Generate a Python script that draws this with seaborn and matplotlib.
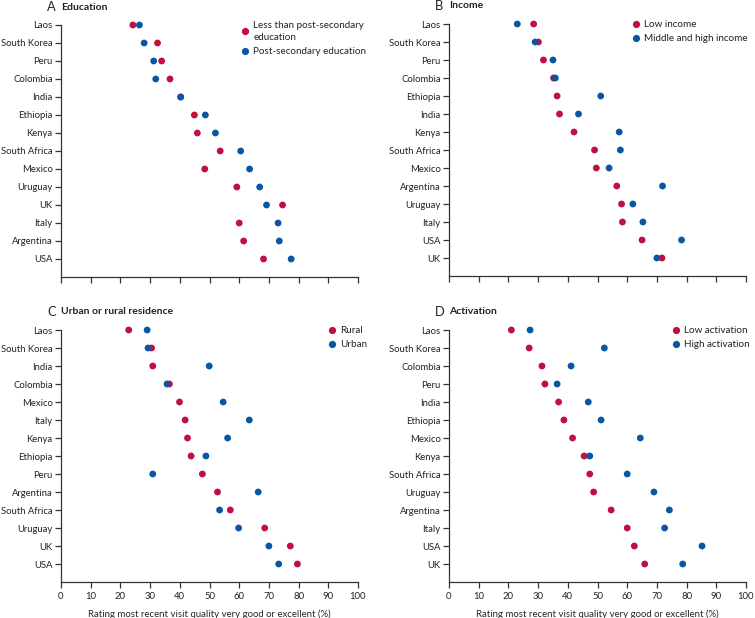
import pandas as pd
import matplotlib
matplotlib.use("Agg")
import matplotlib.pyplot as plt
from matplotlib import font_manager
from matplotlib.lines import Line2D
import seaborn as sns

# Datos
paises_a = ["Laos", "South Korea", "Peru", "Colombia", "India", "Ethiopia", "Kenya",
            "South Africa", "Mexico", "Uruguay", "UK", "Italy", "Argentina", "USA"]
menos_post = [24.2, 32.5, 33.9, 36.7, 40.3, 44.9, 45.9, 53.6, 48.4, 59.2, 74.6, 60.0, 61.5, 68.2]
post_sec = [26.4, 28.0, 31.2, 31.9, 40.3, 48.6, 52.0, 60.5, 63.5, 66.9, 69.2, 73.1, 73.5, 77.5]

paises_b = ["Laos", "South Korea", "Peru", "Colombia", "Ethiopia", "India", "Kenya",
            "South Africa", "Mexico", "Argentina", "Uruguay", "Italy", "USA", "UK"]
bajo_ingreso = [28.5, 30.1, 31.8, 35.2, 36.4, 37.2, 42.1, 49.0, 49.6, 56.5, 58.1, 58.4, 65.0, 71.7]
medio_alto = [23.0, 29.0, 35.0, 35.8, 51.1, 43.6, 57.3, 57.7, 53.9, 71.9, 61.9, 65.3, 78.3, 70.0]

paises_c = ["Laos", "South Korea", "India", "Colombia", "Mexico", "Italy", "Kenya",
            "Ethiopia", "Peru", "Argentina", "South Africa", "Uruguay", "UK", "USA"]
rural = [22.8, 30.5, 30.9, 36.5, 39.9, 41.8, 42.6, 43.8, 47.6, 52.7, 57.0, 68.6, 77.2, 79.6]
urbano = [29.0, 29.3, 49.9, 35.7, 54.6, 63.4, 56.1, 48.8, 30.9, 66.4, 53.4, 59.8, 70.0, 73.3]

paises_d = ["Laos", "South Korea", "Colombia", "Peru", "India", "Ethiopia", "Mexico",
            "Kenya", "South Africa", "Uruguay", "Argentina", "Italy", "USA", "UK"]
baja_act = [21.0, 27.0, 31.3, 32.3, 36.9, 38.7, 41.6, 45.5, 47.4, 48.7, 54.6, 60.0, 62.4, 65.9]
alta_act = [27.3, 52.3, 41.1, 36.4, 46.9, 51.2, 64.4, 47.4, 60.0, 69.0, 74.2, 72.6, 85.2, 78.7]

rojo = "#C0103C"
azul = "#0A56A5"

nombres = {f.name for f in font_manager.fontManager.ttflist}
if "Liberation Sans Narrow" in nombres:
    fuente = "Liberation Sans Narrow"
    tam = 7.8
else:
    fuente = "Lato"
    tam = 6.8

sns.set_style("ticks")
plt.rcParams["font.family"] = [fuente, "DejaVu Sans"]
plt.rcParams["text.color"] = "#222222"
plt.rcParams["axes.edgecolor"] = "#333333"
plt.rcParams["xtick.color"] = "#333333"
plt.rcParams["ytick.color"] = "#333333"
plt.rcParams["xtick.labelcolor"] = "#222222"
plt.rcParams["ytick.labelcolor"] = "#222222"

paneles = [
    ("A", "Education", paises_a, menos_post, post_sec,
     ["Less than post-secondary\neducation", "Post-secondary education"], False),
    ("B", "Income", paises_b, bajo_ingreso, medio_alto,
     ["Low income", "Middle and high income"], False),
    ("C", "Urban or rural residence", paises_c, rural, urbano,
     ["Rural", "Urban"], True),
    ("D", "Activation", paises_d, baja_act, alta_act,
     ["Low activation", "High activation"], True),
]

W, H = 755, 618
fig = plt.figure(figsize=(7.55, 6.18), dpi=100)

# posiciones en pixeles: (izquierda, arriba de la fila Laos, x del marcador de leyenda)
pos = {"A": (61, 25, 246), "B": (449, 24, 637), "C": (61, 330, 333), "D": (449, 330, 677)}
fila = 18.0
ancho = 297

for letra, titulo, paises, v1, v2, etiquetas, con_etiquetas in paneles:
    izq, arriba, leg_x = pos[letra]
    top = arriba - fila / 2
    bottom = arriba + 13 * fila + fila
    ax = fig.add_axes([izq / W, 1 - bottom / H, ancho / W, (bottom - top) / H])

    df = pd.DataFrame({
        "pais": paises + paises,
        "valor": v1 + v2,
        "grupo": [etiquetas[0]] * len(paises) + [etiquetas[1]] * len(paises),
    })
    sns.scatterplot(data=df, x="valor", y="pais", hue="grupo",
                    palette=[rojo, azul], s=24, edgecolor="none", linewidth=0,
                    legend=False, ax=ax, zorder=3)

    ax.set_xlim(0, 100)
    ax.set_ylim(14, -0.5)
    ax.set_xticks(range(0, 101, 10))
    ax.spines["top"].set_visible(False)
    ax.spines["right"].set_visible(False)
    ax.spines["left"].set_bounds(0, 14)
    ax.spines["left"].set_linewidth(0.9)
    ax.spines["bottom"].set_linewidth(0.9)
    ax.tick_params(axis="both", length=4, width=0.9, labelsize=tam, pad=2)
    ax.tick_params(axis="x", pad=3)
    ax.set_ylabel("")
    if con_etiquetas:
        ax.set_xlabel("Rating most recent visit quality very good or excellent (%)",
                      fontsize=tam + 0.1, labelpad=6)
    else:
        ax.set_xlabel("")
        ax.set_xticklabels([])

    # titulo del panel
    ty = arriba - 18
    fig.text((izq - 14) / W, 1 - ty / H, letra, fontsize=tam + 2.5, va="center", ha="left")
    fig.text(izq / W, 1 - ty / H, titulo, fontsize=tam + 0.7, fontweight="bold",
             va="center", ha="left")

    manijas = [Line2D([], [], marker="o", linestyle="", markersize=5.2,
                      markerfacecolor=c, markeredgecolor="none") for c in (rojo, azul)]
    leg = ax.legend(manijas, etiquetas, loc="upper left", frameon=False,
                    bbox_to_anchor=((leg_x - 5 - izq) / ancho,
                                    1 - (arriba - 4 - top) / (bottom - top)),
                    borderpad=0, borderaxespad=0, handlelength=0.9, handletextpad=0.35,
                    labelspacing=0.55, fontsize=tam + 0.3)
    for t in leg.get_texts():
        t.set_linespacing(1.4)

fig.savefig("out.png", dpi=100)
